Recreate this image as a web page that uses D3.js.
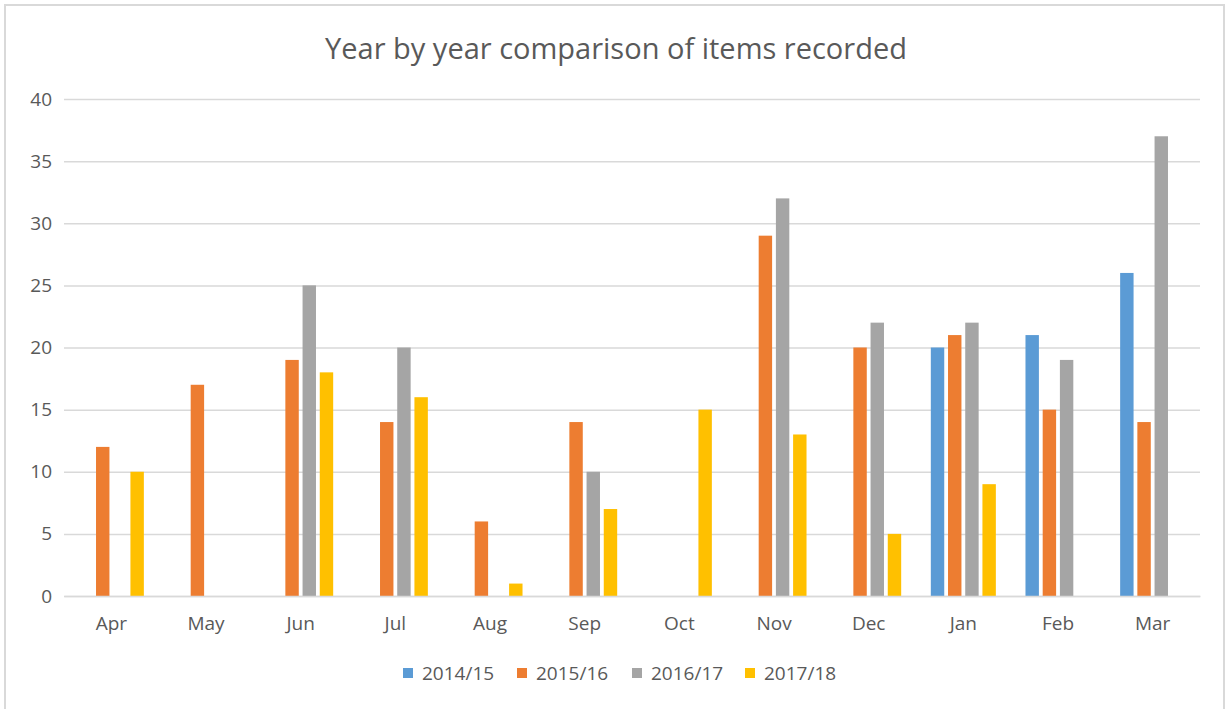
<!DOCTYPE html>
<html><head><meta charset="utf-8">
<script src="https://cdn.jsdelivr.net/npm/d3@7"></script>
<style>body{margin:0;background:#fff}svg{display:block}text{font-family:"Open Sans","Noto Sans",sans-serif;fill:#595959}</style>
</head><body><svg id="c" width="1227" height="709"></svg>
<script>
const months = ["Apr","May","Jun","Jul","Aug","Sep","Oct","Nov","Dec","Jan","Feb","Mar"];
const seriesNames = ["2014/15","2015/16","2016/17","2017/18"];
const colors = ["#5B9BD5","#ED7D31","#A5A5A5","#FFC000"];
const s2014 = [0,0,0,0,0,0,0,0,0,20,21,26];
const s2015 = [12,17,19,14,6,14,0,29,20,21,15,14];
const s2016 = [0,0,25,20,0,10,0,32,22,22,19,37];
const s2017 = [10,0,18,16,1,7,15,13,5,9,0,0];
const yTicks = [0,5,10,15,20,25,30,35,40];
const title = "Year by year comparison of items recorded";

const values = [s2014,s2015,s2016,s2017];
const svg = d3.select("#c");
svg.append("rect").attr("x",5).attr("y",5).attr("width",1219).attr("height",708)
  .attr("fill","#fff").attr("stroke","#d9d9d9").attr("stroke-width",2);

const x0 = d3.scaleBand().domain(months).range([64,1200]).paddingInner(0.313).paddingOuter(0.1565);
const x1 = d3.scaleBand().domain(seriesNames).range([0,x0.bandwidth()]).paddingInner(0.22);
const y = d3.scaleLinear().domain([0,40]).range([596,99]);

svg.append("text").attr("x",616).attr("y",59).attr("text-anchor","middle")
  .style("font-size","29px").text(title);

const ga = svg.append("g").attr("transform","translate(64,0)")
  .call(d3.axisLeft(y).tickValues(yTicks).tickSize(-1136).tickPadding(10));
ga.select(".domain").remove();
ga.selectAll("line").attr("stroke","#d9d9d9").attr("stroke-width",1.5);
ga.selectAll("text").style("font-size","19px").attr("fill","#595959").attr("dx","-2");

const groups = svg.append("g").selectAll("g").data(months).join("g")
  .attr("transform",d=>`translate(${x0(d)},0)`);
groups.selectAll("rect").data((m,i)=>seriesNames.map((s,k)=>({s,k,v:values[k][i]})))
  .join("rect")
  .attr("x",d=>x1(d.s)).attr("width",x1.bandwidth())
  .attr("y",d=>y(d.v)).attr("height",d=>y(0)-y(d.v))
  .attr("fill",d=>colors[d.k]);

const gx = svg.append("g").attr("transform","translate(0,596)")
  .call(d3.axisBottom(x0).tickSize(0).tickPadding(21));
gx.select(".domain").attr("stroke","#d9d9d9").attr("stroke-width",1.5);
gx.selectAll("text").style("font-size","19px").attr("fill","#595959");

const legX = [403,517,632,745];
const leg = svg.append("g").selectAll("g").data(seriesNames).join("g")
  .attr("transform",(d,i)=>`translate(${legX[i]},668)`);
leg.append("rect").attr("width",10).attr("height",10).attr("fill",(d,i)=>colors[i]);
leg.append("text").attr("x",19).attr("y",12).style("font-size","19px").text(d=>d);
</script></body></html>
